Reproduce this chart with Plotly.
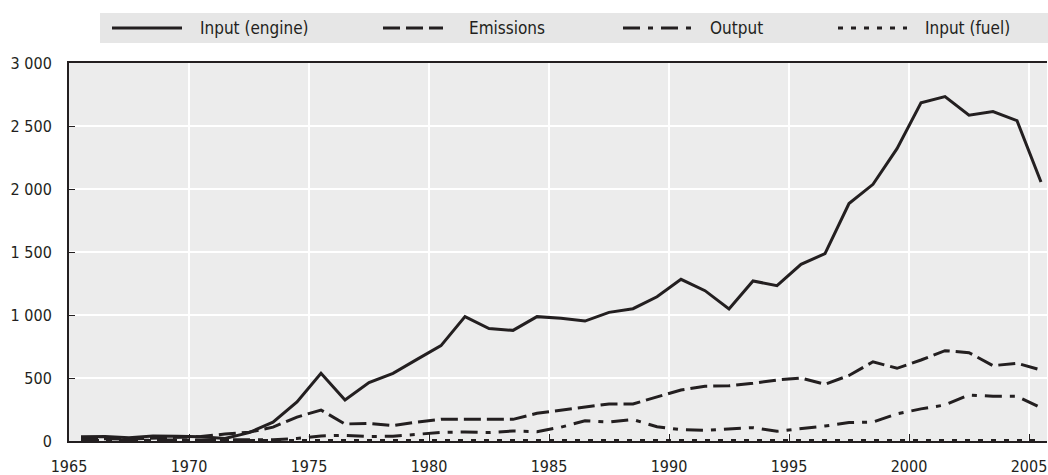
import plotly.graph_objects as go

years = list(range(1965, 2006))

input_engine = [34, 36, 26, 40, 38, 34, 20, 66, 150, 310,
                537, 325, 463, 537, 648, 757, 987, 892, 878, 987,
                974, 952, 1021, 1050, 1145, 1283, 1193, 1048, 1270, 1233,
                1402, 1487, 1885, 2037, 2320, 2685, 2733, 2585, 2614, 2542,
                2056]

emissions = [15, 18, 15, 20, 25, 35, 55, 70, 110, 190,
             246, 135, 140, 122, 150, 172, 172, 172, 172, 220,
             246, 267, 294, 294, 352, 405, 435, 438, 458, 484,
             500, 450, 520, 629, 577, 643, 717, 701, 598, 617,
             563]

output = [5, 5, 8, 6, 5, 8, 5, 5, 10, 20,
          40, 45, 36, 38, 53, 68, 71, 67, 79, 74,
          110, 160, 150, 170, 113, 90, 85, 95, 106, 77,
          98, 119, 146, 150, 215, 255, 286, 365, 355, 355,
          263]

input_fuel = [3, 3, 3, 3, 3, 3, 3, 3, 3, 3,
              3, 3, 3, 3, 3, 3, 3, 3, 3, 3,
              3, 3, 3, 3, 3, 3, 3, 3, 3, 3,
              3, 3, 3, 3, 3, 3, 3, 3, 3, 3,
              3]

series_names = ["Input (engine)", "Emissions", "Output", "Input (fuel)"]
x_ticks = [1965, 1970, 1975, 1980, 1985, 1990, 1995, 2000, 2005]
y_ticks = [0, 500, 1000, 1500, 2000, 2500, 3000]

# values are annual, drawn at mid-year
xpos = [y + 0.5 for y in years]

INK = "#231f20"
FONT = "DejaVu Sans Condensed, Liberation Sans Narrow, Arial Narrow, sans-serif"
dashes = ["solid", "17px,6px", "17px,8px,5px,8px", "5px,8px"]
series = [input_engine, emissions, output, input_fuel]

fig = go.Figure()
for name, vals, dash in zip(series_names, series, dashes):
    fig.add_trace(go.Scatter(x=xpos, y=vals, name=name, mode="lines",
                             line=dict(color=INK, width=3, dash=dash),
                             showlegend=False, cliponaxis=True))

W, H = 1048, 475
L, R, T, B = 69, 1, 63, 34
pw, ph = W - L - R, H - T - B

def xp(px):
    return (px - L) / pw

def yp(py):
    return (H - B - py) / ph

shapes = [dict(type="rect", xref="paper", yref="paper",
               x0=xp(100), x1=xp(1048), y0=yp(43), y1=yp(13),
               fillcolor="#e6e6e6", line=dict(width=0), layer="below")]
annotations = []
legend_pos = [(112, 182, 198), (383, 443, 467), (623, 692, 708), (838, 907, 923)]
for name, dash, (s0, s1, tx) in zip(series_names, dashes, legend_pos):
    shapes.append(dict(type="line", xref="paper", yref="paper",
                       x0=xp(s0), x1=xp(s1), y0=yp(28), y1=yp(28),
                       line=dict(color=INK, width=3, dash=dash)))
    annotations.append(dict(text=name, xref="paper", yref="paper",
                            x=xp(tx), y=yp(28), xanchor="left", yanchor="middle",
                            showarrow=False, font=dict(size=17, color=INK, family=FONT)))

fig.update_layout(
    width=W, height=H,
    margin=dict(l=L, r=R, t=T, b=B, autoexpand=False),
    paper_bgcolor="white",
    plot_bgcolor="#ececec",
    separators=". ",
    font=dict(family=FONT, size=16, color=INK),
    shapes=shapes,
    annotations=annotations,
    hovermode=False,
    xaxis=dict(range=[1965, 2005.75], tickvals=x_ticks,
               ticktext=[str(v) for v in x_ticks], automargin=False,
               showgrid=True, gridcolor="white", gridwidth=1.5,
               showline=True, linecolor=INK, linewidth=2, mirror=True,
               ticks="inside", ticklen=7, tickcolor=INK, tickwidth=1,
               ticklabelstandoff=10, ticklabeloverflow="allow", zeroline=False),
    yaxis=dict(range=[0, 3000], tickvals=y_ticks, tickformat=",d",
               automargin=False,
               showgrid=True, gridcolor="white", gridwidth=1.5,
               showline=True, linecolor=INK, linewidth=2,
               ticks="inside", ticklen=6, tickcolor=INK, tickwidth=1,
               ticklabelstandoff=12, zeroline=False),
)

fig.write_html(
    "out.html",
    config={"displayModeBar": False},
    post_script="document.body.style.margin='0';document.body.style.overflow='hidden';",
)
